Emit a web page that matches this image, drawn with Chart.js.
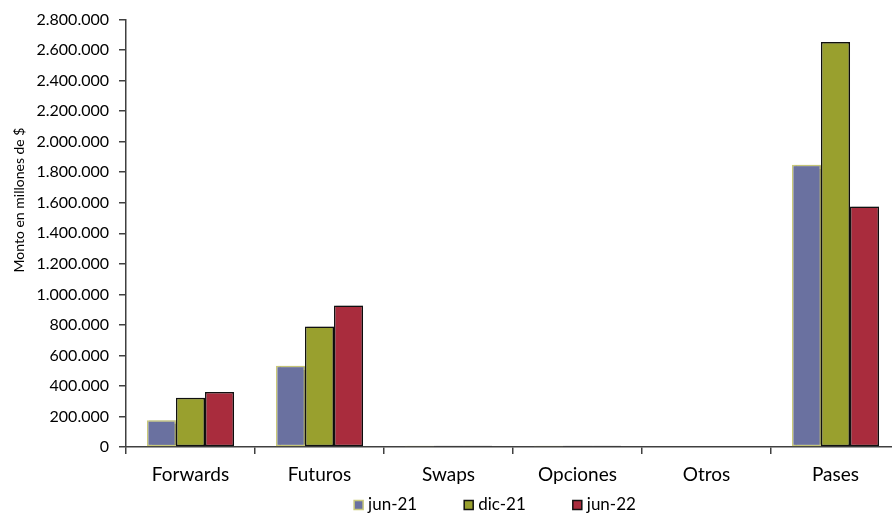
<!DOCTYPE html>
<html>
<head>
<meta charset="utf-8">
<script src="https://cdn.jsdelivr.net/npm/chart.js@4/dist/chart.umd.min.js"></script>
<style>
  html, body { margin: 0; padding: 0; background: #fff; overflow: hidden; }
  #wrap { width: 900px; height: 516px; position: relative; }
</style>
</head>
<body>
<div id="wrap"><canvas id="c"></canvas></div>
<script>
const categories = ["Forwards", "Futuros", "Swaps", "Opciones", "Otros", "Pases"];
const seriesNames = ["jun-21", "dic-21", "jun-22"];
const jun21 = [176000, 533000, 8000, 8000, 0, 1849000];
const dic21 = [322000, 789000, 9000, 9000, 0, 2654000];
const jun22 = [360000, 927000, 9000, 9000, 0, 1576000];
const yTicks = [0, 200000, 400000, 600000, 800000, 1000000, 1200000, 1400000, 1600000, 1800000, 2000000, 2200000, 2400000, 2600000, 2800000];
const yTitle = "Monto en millones de $";

const fill = ["#6a71a0", "#99a02e", "#a92c3d"];
const border = ["#c9c97a", "#111111", "#111111"];
const FONT = "Lato, 'Liberation Sans', sans-serif";

function fmt(v) {
  return String(v).replace(/\B(?=(\d{3})+(?!\d))/g, ".");
}

const data = {
  labels: categories,
  datasets: [jun21, dic21, jun22].map((vals, i) => ({
    label: seriesNames[i],
    data: vals,
    backgroundColor: fill[i],
    borderColor: border[i],
    borderWidth: 1.5,
    borderSkipped: false,
    categoryPercentage: 0.675,
    barPercentage: 1.0
  }))
};

const shadowPlugin = {
  id: 'shadow',
  beforeDatasetsDraw(chart) {
    const ctx = chart.ctx;
    ctx.save();
    ctx.shadowColor = 'rgba(0,0,0,0.28)';
    ctx.shadowOffsetX = 2;
    ctx.shadowOffsetY = 0;
    ctx.shadowBlur = 1;
  },
  afterDatasetsDraw(chart) {
    chart.ctx.restore();
  }
};

const textPlugin = {
  id: 'customText',
  afterDraw(chart) {
    const ctx = chart.ctx;
    // y-axis title
    ctx.save();
    ctx.font = "14px " + FONT;
    ctx.fillStyle = '#000';
    ctx.textAlign = 'center';
    ctx.textBaseline = 'middle';
    ctx.translate(19, 200);
    ctx.rotate(-Math.PI / 2);
    ctx.fillText(yTitle, 0, 0);
    ctx.restore();

    // legend
    ctx.save();
    ctx.font = "17px " + FONT;
    ctx.textBaseline = 'middle';
    const box = 9, gapText = 5, gapItem = 47;
    const items = chart.data.datasets.map(ds => ({
      label: ds.label, fill: ds.backgroundColor, border: ds.borderColor,
      w: box + gapText + ctx.measureText(ds.label).width
    }));
    const total = items.reduce((a, it) => a + it.w, 0) + gapItem * (items.length - 1);
    let x = 495 - total / 2;
    const y = 505;
    items.forEach(it => {
      ctx.fillStyle = it.fill;
      ctx.fillRect(x, y - box / 2, box, box);
      ctx.strokeStyle = it.border;
      ctx.lineWidth = 1.5;
      ctx.strokeRect(x, y - box / 2, box, box);
      ctx.fillStyle = '#000';
      ctx.fillText(it.label, x + box + gapText, y);
      x += it.w + gapItem;
    });
    ctx.restore();
  }
};

new Chart(document.getElementById('c'), {
  type: 'bar',
  data,
  plugins: [shadowPlugin, textPlugin],
  options: {
    responsive: true,
    maintainAspectRatio: false,
    animation: false,
    layout: { padding: { top: 17, right: 0, left: 0, bottom: 0 } },
    plugins: {
      legend: { display: false },
      tooltip: { enabled: false }
    },
    scales: {
      x: {
        offset: true,
        grid: { display: true, offset: true, drawOnChartArea: false, drawTicks: true, tickLength: 7, color: '#404040', lineWidth: 1.5 },
        border: { display: true, color: '#404040', width: 1.5 },
        ticks: { color: '#000', font: { family: FONT, size: 19 }, padding: 9 },
        afterFit: (s) => { s.height = 69; }
      },
      y: {
        min: 0, max: 2800000,
        afterBuildTicks: (s) => { s.ticks = yTicks.map(v => ({ value: v })); },
        grid: { display: true, drawOnChartArea: false, drawTicks: true, tickLength: 7, color: '#404040', lineWidth: 1.5 },
        border: { display: true, color: '#404040', width: 1.5 },
        ticks: { color: '#000', font: { family: FONT, size: 16 }, padding: 10, callback: (v) => fmt(v) },
        title: { display: false },
        afterFit: (s) => { s.width = 126; }
      }
    }
  }
});
</script>
</body>
</html>
